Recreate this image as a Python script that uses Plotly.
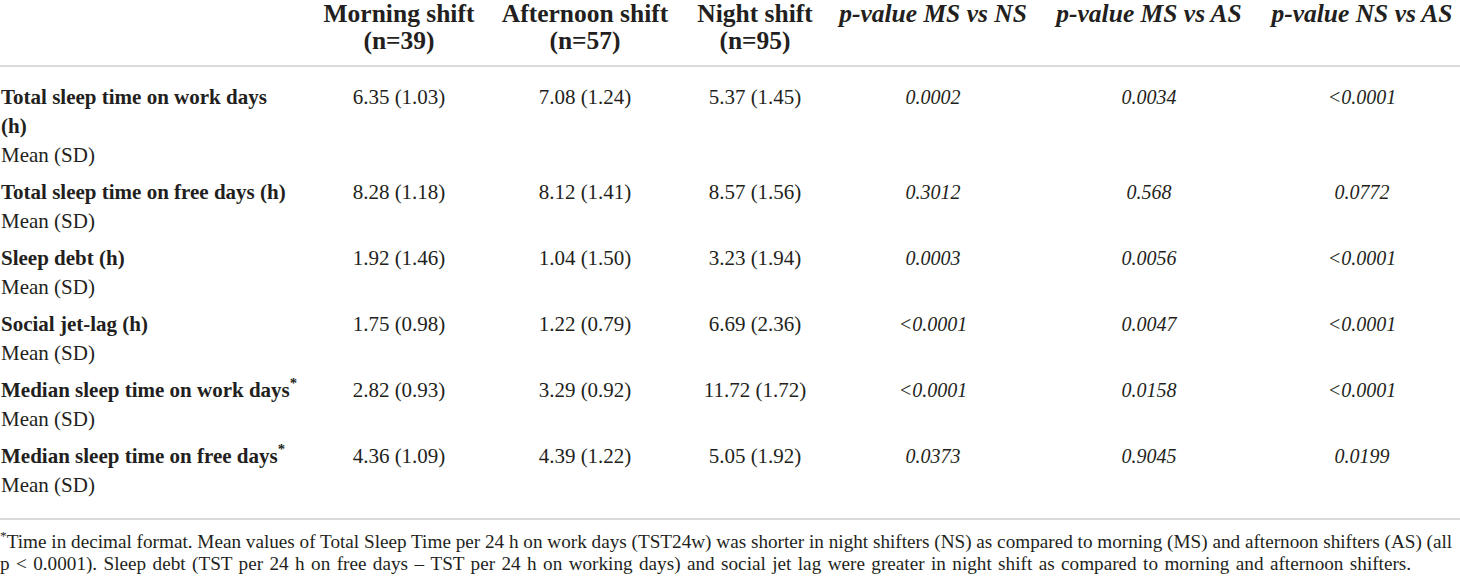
import plotly.graph_objects as go

# ---- data ----
header_lines = [
    ["Morning shift", "(n=39)"],
    ["Afternoon shift", "(n=57)"],
    ["Night shift", "(n=95)"],
    ["p-value MS vs NS"],
    ["p-value MS vs AS"],
    ["p-value NS vs AS"],
]

row_labels = [
    ["Total sleep time on work days", "(h)"],
    ["Total sleep time on free days (h)"],
    ["Sleep debt (h)"],
    ["Social jet-lag (h)"],
    ["Median sleep time on work days<sup>*</sup>"],
    ["Median sleep time on free days<sup>*</sup>"],
]
stat_label = "Mean (SD)"

morning = ["6.35 (1.03)", "8.28 (1.18)", "1.92 (1.46)", "1.75 (0.98)", "2.82 (0.93)", "4.36 (1.09)"]
afternoon = ["7.08 (1.24)", "8.12 (1.41)", "1.04 (1.50)", "1.22 (0.79)", "3.29 (0.92)", "4.39 (1.22)"]
night = ["5.37 (1.45)", "8.57 (1.56)", "3.23 (1.94)", "6.69 (2.36)", "11.72 (1.72)", "5.05 (1.92)"]
p_ms_ns = ["0.0002", "0.3012", "0.0003", "<0.0001", "<0.0001", "0.0373"]
p_ms_as = ["0.0034", "0.568", "0.0056", "0.0047", "0.0158", "0.9045"]
p_ns_as = ["<0.0001", "0.0772", "<0.0001", "<0.0001", "<0.0001", "0.0199"]

footnote = [
    "<sup>*</sup>Time in decimal format. Mean values of Total Sleep Time per 24 h on work days (TST24w) was shorter in night shifters (NS) as compared to morning (MS) and afternoon shifters (AS) (all",
    "p < 0.0001). Sleep debt (TST per 24 h on free days \u2013 TST per 24 h on working days) and social jet lag were greater in night shift as compared to morning and afternoon shifters.",
]

# ---- layout ----
W, H = 1460, 579
FONT = "Liberation Serif"
INK = "#231f20"
col_x = [399, 585, 755, 933, 1149, 1362]
label_x = 1
head_y = [16, 43]
body_top = 99
line_h = 29
row_gap = 37
foot_y = [543, 565]

# first-line y of every row
row_y = []
y = body_top
for lab in row_labels:
    row_y.append(y)
    y += line_h * len(lab) + row_gap

fig = go.Figure()

# header
for i, lines in enumerate(header_lines):
    italic = lines[0].startswith("p-value")
    fig.add_trace(go.Scatter(
        x=[col_x[i]] * len(lines), y=head_y[:len(lines)], text=lines,
        mode="text", textposition="middle center",
        textfont=dict(family=FONT, size=25.5, color=INK, weight="bold",
                      style="italic" if italic else "normal"),
    ))

# row labels (bold) and the "Mean (SD)" line
lx, ly, lt, sx, sy = [], [], [], [], []
for r, lab in enumerate(row_labels):
    for k, s in enumerate(lab):
        lx.append(label_x)
        ly.append(row_y[r] + k * line_h)
        lt.append(s)
    sx.append(label_x)
    sy.append(row_y[r] + len(lab) * line_h)
fig.add_trace(go.Scatter(
    x=lx, y=ly, text=lt, mode="text", textposition="middle right",
    textfont=dict(family=FONT, size=21, color=INK, weight="bold"),
))
fig.add_trace(go.Scatter(
    x=sx, y=sy, text=[stat_label] * len(sy), mode="text", textposition="middle right",
    textfont=dict(family=FONT, size=21, color=INK),
))

# value columns
columns = [morning, afternoon, night, p_ms_ns, p_ms_as, p_ns_as]
for i, vals in enumerate(columns):
    fig.add_trace(go.Scatter(
        x=[col_x[i]] * len(vals), y=row_y, text=vals,
        mode="text", textposition="middle center",
        textfont=dict(family=FONT, size=20 if i >= 3 else 21, color=INK,
                      style="italic" if i >= 3 else "normal"),
    ))

# footnote (second line is justified in the source, so widen its word gaps a touch)
foot_text = [footnote[0], footnote[1].replace(" ", " \u200a")]
fig.add_trace(go.Scatter(
    x=[0, 0], y=foot_y, text=foot_text, mode="text", textposition="middle right",
    textfont=dict(family=FONT, size=19.2, color=INK),
))

# horizontal rules
for yy in [66, 519]:
    fig.add_shape(type="line", x0=0, x1=W, y0=yy, y1=yy,
                  line=dict(color="#b5b5b5", width=1.2), layer="below")

fig.update_layout(
    width=W, height=H,
    margin=dict(l=0, r=0, t=0, b=0),
    paper_bgcolor="#ffffff",
    plot_bgcolor="#ffffff",
    showlegend=False,
    xaxis=dict(range=[0, W], visible=False, fixedrange=True),
    yaxis=dict(range=[H, 0], visible=False, fixedrange=True),
)

fig.write_html("out.html", config={"displayModeBar": False},
               post_script="document.body.style.margin='0';")
